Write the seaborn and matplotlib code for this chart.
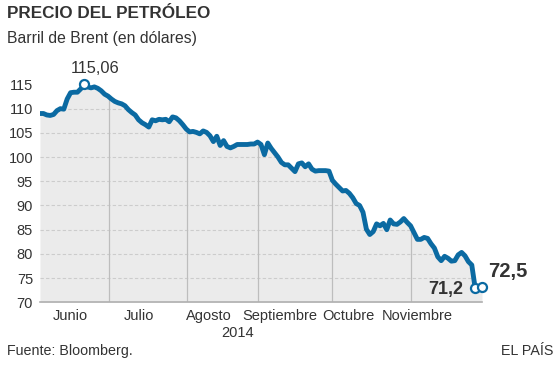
import pandas as pd
import seaborn as sns
import matplotlib.pyplot as plt

# Barril de Brent, un valor por sesion (junio - noviembre 2014)
precio = [
    109.0, 109.0, 108.7, 108.6, 108.8, 109.6, 110.0, 109.9, 112.0, 113.3,
    113.4, 113.4, 114.1, 115.06, 114.5, 114.3, 114.5, 114.2, 113.7, 113.0,
    112.6, 112.0, 111.5, 111.2, 111.0, 110.6, 109.8, 109.2, 108.7, 107.7,
    107.1, 106.7, 106.2, 107.7, 107.5, 107.8, 107.7, 107.8, 107.3, 108.3,
    108.1, 107.5, 106.7, 105.8, 105.2, 105.3, 105.1, 104.8, 105.4, 105.1,
    104.4, 103.2, 104.3, 102.4, 103.4, 102.2, 101.9, 102.2, 102.6, 102.6,
    102.6, 102.6, 102.7, 102.7, 103.1, 102.6, 100.5, 102.9, 101.8, 100.9,
    100.0, 98.9, 98.4, 98.4, 97.7, 97.0, 98.6, 98.8, 98.0, 98.6,
    97.5, 97.1, 97.2, 97.2, 97.2, 97.1, 95.2, 94.4, 93.7, 93.0,
    93.1, 92.5, 91.6, 90.4, 90.0, 88.6, 85.1, 84.0, 84.6, 86.2,
    85.8, 86.3, 85.0, 87.0, 86.2, 86.1, 86.6, 87.3, 86.5, 85.8,
    84.4, 83.0, 83.0, 83.4, 83.2, 82.1, 81.2, 79.4, 78.6, 79.5,
    79.1, 78.5, 78.6, 79.8, 80.3, 79.6, 78.4, 77.7, 72.9, 73.0,
    73.1,
]
dia = list(range(len(precio)))

meses = ["Junio", "Julio", "Agosto", "Septiembre", "Octubre", "Noviembre"]
pos_meses = [8.8, 29.1, 49.7, 70.6, 90.6, 110.9]
cortes_mes = [20.4, 43.3, 64.2, 86.0, 109.1]
ticks_y = [70, 75, 80, 85, 90, 95, 100, 105, 110, 115]

i_max = 13
i_min = 128
i_fin = len(precio) - 1

df = pd.DataFrame({"dia": dia, "precio": precio})

azul = "#0b6aa2"
texto = "#333333"

sns.set_style("white")
plt.rcParams["font.family"] = ["Liberation Sans", "DejaVu Sans"]

fig = plt.figure(figsize=(5.6, 3.65), dpi=100)
ax = fig.add_axes([0.0714, 0.1718, 0.7893, 0.6233])

# area gris bajo la linea, la rejilla solo se ve dentro de ella
area = ax.fill_between(df["dia"], df["precio"], 70, color="#ebebeb", lw=0, zorder=1)
ruta = area.get_paths()[0]
trans = area.get_transform()
for y in ticks_y[1:]:
    l = ax.axhline(y, color="#cccccc", lw=0.8, ls=(0, (3, 2)), zorder=2)
    l.set_clip_path(ruta, trans)
for x in cortes_mes:
    l = ax.axvline(x, color="#bdbdbd", lw=0.9, zorder=2)
    l.set_clip_path(ruta, trans)

sns.lineplot(data=df, x="dia", y="precio", color=azul, lw=3.5, ax=ax,
             zorder=3, solid_capstyle="round", solid_joinstyle="round")

for i in [i_max, i_min, i_fin]:
    ax.plot([dia[i]], [precio[i]], "o", ms=6.5, mfc="white", mec=azul,
            mew=1.6, zorder=4, clip_on=False)

ax.annotate("115,06", (dia[i_max], precio[i_max]), xytext=(8, 11),
            textcoords="offset points", ha="center", va="center",
            fontsize=11.8, color=texto)
ax.annotate("71,2", (dia[i_min], precio[i_min]), xytext=(-8.5, -1),
            textcoords="offset points", ha="right", va="center",
            fontsize=13, fontweight="bold", color=texto)
ax.annotate("72,5", (dia[i_fin], precio[i_fin]), xytext=(4.5, 11.5),
            textcoords="offset points", ha="left", va="center",
            fontsize=14.5, fontweight="bold", color=texto)

ax.set_xlim(0, 130)
ax.set_ylim(70, 117)
ax.set_yticks(ticks_y)
ax.set_yticklabels([str(t) for t in ticks_y])
ax.set_xticks(pos_meses)
ax.set_xticklabels(meses)
ax.tick_params(axis="both", length=0, labelsize=10.5, labelcolor=texto)
ax.tick_params(axis="y", pad=5)
ax.tick_params(axis="x", pad=4.5)
ax.set_xlabel("")
ax.set_ylabel("")
for lado in ["top", "right", "left"]:
    ax.spines[lado].set_visible(False)
ax.spines["bottom"].set_color("#b0b0b0")
ax.spines["bottom"].set_linewidth(1.2)

fig.text(0.0125, 0.95, "PRECIO DEL PETRÓLEO", fontsize=12.3, fontweight="bold",
         color=texto, va="baseline")
fig.text(0.0125, 0.883, "Barril de Brent (en dólares)", fontsize=11.3,
         color=texto, va="baseline")
fig.text(0.425, 0.0885, "2014", fontsize=10.5, color=texto, ha="center", va="center")
fig.text(0.0125, 0.0384, "Fuente: Bloomberg.", fontsize=10.3, color=texto, va="center")
fig.text(0.9875, 0.0384, "EL PAÍS", fontsize=10.3, color=texto, ha="right", va="center")

fig.savefig("out.png", dpi=100, facecolor="white")
